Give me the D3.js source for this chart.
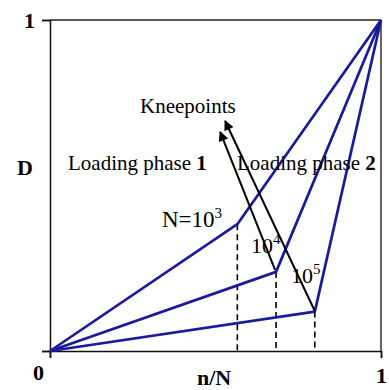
<!DOCTYPE html>
<html>
<head>
<meta charset="utf-8">
<script src="https://cdn.jsdelivr.net/npm/d3@7"></script>
<style>
html,body{margin:0;padding:0;background:#fff;}
svg{display:block;}
text{font-family:"Liberation Serif","Times New Roman",serif;fill:#000;}
</style>
</head>
<body>
<svg id="chart" width="389" height="390"></svg>
<script>
// ---- data ----
const curveNames = ["N=10^3", "10^4", "10^5"];
const kneeX = [0.566, 0.683, 0.800];
const kneeY = [0.383, 0.239, 0.119];
const arrowStartX = [0.680, 0.800];
const arrowStartY = [0.245, 0.121];
const arrowEndX = [0.514, 0.529];
const arrowEndY = [0.662, 0.695];
const xTicks = [0, 1];
const yTicks = [0, 1];
const xTickLabels = ["0", "1"];
const yTickLabels = ["", "1"];

const svg = d3.select("#chart");
const x = d3.scaleLinear().domain([0, 1]).range([50, 381]);
const y = d3.scaleLinear().domain([0, 1]).range([351, 20]);

// frame: top and right
svg.append("line").attr("x1", x(0)).attr("x2", x(1)).attr("y1", y(1)).attr("y2", y(1))
  .attr("stroke", "#222").attr("stroke-width", 1.5);
svg.append("line").attr("x1", x(1)).attr("x2", x(1)).attr("y1", y(1)).attr("y2", y(0))
  .attr("stroke", "#333").attr("stroke-width", 1.5);

// axes
const gx = svg.append("g").attr("transform", `translate(0,${y(0)})`)
  .call(d3.axisBottom(x).tickValues(xTicks).tickSize(7).tickPadding(8)
    .tickFormat((d, i) => xTickLabels[i]));
const gy = svg.append("g").attr("transform", `translate(${x(0)},0)`)
  .call(d3.axisLeft(y).tickValues(yTicks).tickSize(8).tickPadding(7)
    .tickFormat((d, i) => yTickLabels[i]));
[gx, gy].forEach(g => {
  g.selectAll(".domain").attr("stroke", "#111").attr("stroke-width", 1.5);
  g.selectAll(".tick line").attr("stroke", "#111").attr("stroke-width", 1.5);
  g.selectAll("text").style("font-family", '"Liberation Serif",serif')
    .style("font-size", "22px").style("font-weight", "bold").attr("fill", "#000");
});
gx.selectAll(".tick text").attr("dy", "0.71em").attr("y", 13)
  .attr("dx", (d) => d === 0 ? -12 : 0)
  .attr("transform", (d) => d === 1 ? "translate(0,3)" : null);
gy.selectAll(".tick text").attr("dy", "0.35em");

// dashed drop lines
kneeX.forEach((kx, i) => {
  svg.append("line").attr("x1", x(kx)).attr("x2", x(kx))
    .attr("y1", y(kneeY[i])).attr("y2", y(0))
    .attr("stroke", "#000").attr("stroke-width", 1.6)
    .attr("stroke-dasharray", "6,4");
});

// curves
const line = d3.line().x(d => x(d[0])).y(d => y(d[1]));
kneeX.forEach((kx, i) => {
  svg.append("path").datum([[0, 0], [kx, kneeY[i]], [1, 1]])
    .attr("d", line).attr("fill", "none")
    .attr("stroke", "#1a1a9e").attr("stroke-width", 2.7)
    .attr("stroke-linejoin", "round");
});

// arrows
const defs = svg.append("defs");
defs.append("marker").attr("id", "ah").attr("viewBox", "0 0 10 10")
  .attr("refX", 9).attr("refY", 5).attr("markerWidth", 12).attr("markerHeight", 10)
  .attr("markerUnits", "userSpaceOnUse").attr("orient", "auto")
  .append("path").attr("d", "M0,0 L10,5 L0,10 Z").attr("fill", "#000");
arrowStartX.forEach((sx, i) => {
  svg.append("line").attr("x1", x(sx)).attr("y1", y(arrowStartY[i]))
    .attr("x2", x(arrowEndX[i])).attr("y2", y(arrowEndY[i]))
    .attr("stroke", "#000").attr("stroke-width", 2)
    .attr("marker-end", "url(#ah)");
});

// text labels
svg.append("text").attr("x", 140).attr("y", 113).style("font-size", "21px").text("Kneepoints");
const lp1 = svg.append("text").attr("x", 68).attr("y", 170).style("font-size", "21px");
lp1.append("tspan").text("Loading phase ");
lp1.append("tspan").style("font-weight", "bold").text("1");
const lp2 = svg.append("text").attr("x", 237).attr("y", 170).style("font-size", "21px");
lp2.append("tspan").text("Loading phase ");
lp2.append("tspan").style("font-weight", "bold").text("2");

const curveLabelPos = [[162, 227, 23], [251, 253, 22], [291, 283, 22]];
curveNames.forEach((name, i) => {
  const [base, sup] = name.split("^");
  const p = curveLabelPos[i];
  const t = svg.append("text").attr("x", p[0]).attr("y", p[1]).style("font-size", p[2] + "px");
  t.append("tspan").text(base);
  t.append("tspan").attr("dy", -9).style("font-size", "15px").text(sup);
});

svg.append("text").attr("x", 25).attr("y", 175).attr("text-anchor", "middle")
  .style("font-size", "22px").style("font-weight", "bold").text("D");
svg.append("text").attr("x", 197).attr("y", 385)
  .style("font-size", "22px").style("font-weight", "bold").text("n/N");
</script>
</body>
</html>
